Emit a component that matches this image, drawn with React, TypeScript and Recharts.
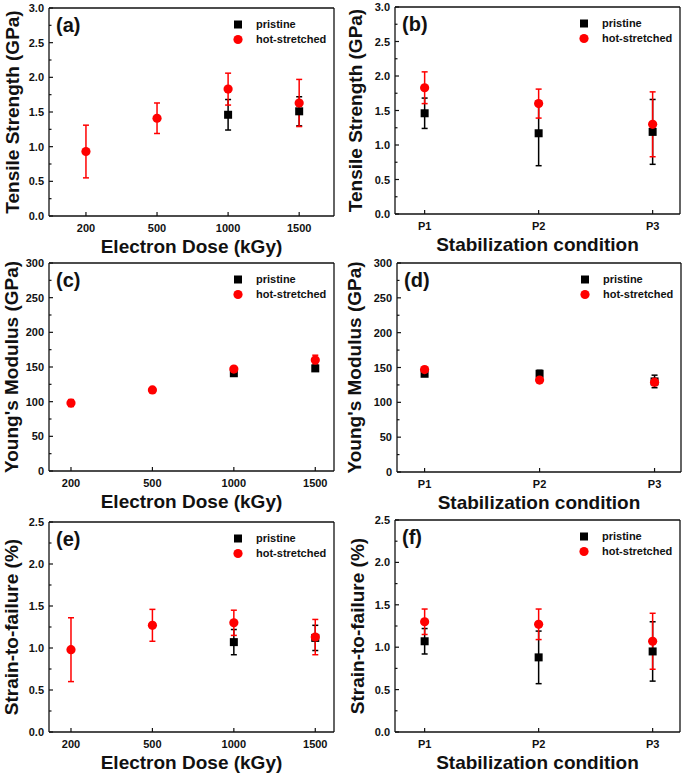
import React from 'react';
import { ScatterChart, Scatter, XAxis, YAxis, ErrorBar, ReferenceLine, Legend } from 'recharts';

const FONT = 'Arial, "Liberation Sans", Helvetica, sans-serif';

const doseLabels = ['200', '500', '1000', '1500'];
const condLabels = ['P1', 'P2', 'P3'];

// tensile strength (GPa)
const tsDosePristine = [null, null, 1.46, 1.51];
const tsDosePristineErr = [null, null, 0.22, 0.21];
const tsDoseHot = [0.93, 1.41, 1.83, 1.63];
const tsDoseHotErr = [0.38, 0.22, 0.23, 0.34];
const tsCondPristine = [1.46, 1.17, 1.19];
const tsCondPristineErr = [0.22, 0.47, 0.47];
const tsCondHot = [1.83, 1.6, 1.3];
const tsCondHotErr = [0.23, 0.21, 0.47];

// young's modulus (GPa)
const ymDosePristine = [null, null, 141, 148];
const ymDosePristineErr = [null, null, 4, 3];
const ymDoseHot = [98, 117, 147, 160];
const ymDoseHotErr = [5, 3, 3, 7];
const ymCondPristine = [141, 141, 130];
const ymCondPristineErr = [3, 5, 9];
const ymCondHot = [147, 132, 129];
const ymCondHotErr = [3, 3, 5];

// strain-to-failure (%)
const sfDosePristine = [null, null, 1.07, 1.12];
const sfDosePristineErr = [null, null, 0.15, 0.15];
const sfDoseHot = [0.98, 1.27, 1.3, 1.13];
const sfDoseHotErr = [0.38, 0.19, 0.15, 0.21];
const sfCondPristine = [1.07, 0.88, 0.95];
const sfCondPristineErr = [0.15, 0.31, 0.35];
const sfCondHot = [1.3, 1.27, 1.07];
const sfCondHotErr = [0.15, 0.18, 0.33];

const toPoints = (vals: (number | null)[], errs: (number | null)[]) =>
  vals
    .map((v, i) => (v == null ? null : { x: i, y: v, err: errs[i] }))
    .filter(Boolean) as { x: number; y: number; err: number }[];

const range = (max: number, step: number) => {
  const out: number[] = [];
  for (let i = 0; i <= Math.round(max / step); i++) out.push(+(i * step).toFixed(4));
  return out;
};

const panels = [
  {
    tag: '(a)', left: 0, top: 0, w: 342, h: 250, pl: 49, pt: 8, pr: 334, pb: 216,
    xDomain: [-0.52, 3.49], xLabels: doseLabels, yMax: 3, yStep: 0.5, dec: 1,
    yTitle: 'Tensile Strength (GPa)', xTitle: 'Electron Dose (kGy)', yTitleX: 19,
    pristine: toPoints(tsDosePristine, tsDosePristineErr), hot: toPoints(tsDoseHot, tsDoseHotErr),
  },
  {
    tag: '(b)', left: 342, top: 0, w: 343, h: 250, pl: 395, pt: 7, pr: 680, pb: 214,
    xDomain: [-0.26, 2.24], xLabels: condLabels, yMax: 3, yStep: 0.5, dec: 1,
    yTitle: 'Tensile Strength (GPa)', xTitle: 'Stabilization condition', yTitleX: 362,
    pristine: toPoints(tsCondPristine, tsCondPristineErr), hot: toPoints(tsCondHot, tsCondHotErr),
  },
  {
    tag: '(c)', left: 0, top: 250, w: 342, h: 258, pl: 49, pt: 263, pr: 334, pb: 471,
    xDomain: [-0.27, 3.23], xLabels: doseLabels, yMax: 300, yStep: 50, dec: 0,
    yTitle: "Young's Modulus (GPa)", xTitle: 'Electron Dose (kGy)', yTitleX: 18,
    pristine: toPoints(ymDosePristine, ymDosePristineErr), hot: toPoints(ymDoseHot, ymDoseHotErr),
  },
  {
    tag: '(d)', left: 342, top: 250, w: 343, h: 258, pl: 397, pt: 263, pr: 681, pb: 472,
    xDomain: [-0.24, 2.23], xLabels: condLabels, yMax: 300, yStep: 50, dec: 0,
    yTitle: "Young's Modulus (GPa)", xTitle: 'Stabilization condition', yTitleX: 361,
    pristine: toPoints(ymCondPristine, ymCondPristineErr), hot: toPoints(ymCondHot, ymCondHotErr),
  },
  {
    tag: '(e)', left: 0, top: 508, w: 342, h: 266, pl: 49, pt: 522, pr: 334, pb: 732,
    xDomain: [-0.27, 3.23], xLabels: doseLabels, yMax: 2.5, yStep: 0.5, dec: 1,
    yTitle: 'Strain-to-failure (%)', xTitle: 'Electron Dose (kGy)', yTitleX: 18,
    pristine: toPoints(sfDosePristine, sfDosePristineErr), hot: toPoints(sfDoseHot, sfDoseHotErr),
  },
  {
    tag: '(f)', left: 342, top: 508, w: 343, h: 266, pl: 395, pt: 520, pr: 680, pb: 732,
    xDomain: [-0.26, 2.24], xLabels: condLabels, yMax: 2.5, yStep: 0.5, dec: 1,
    yTitle: 'Strain-to-failure (%)', xTitle: 'Stabilization condition', yTitleX: 364,
    pristine: toPoints(sfCondPristine, sfCondPristineErr), hot: toPoints(sfCondHot, sfCondHotErr),
  },
];

const squareShape = (p: any) => <rect x={p.cx - 4} y={p.cy - 4} width={8} height={8} fill="#000" />;
const circleShape = (p: any) => <circle cx={p.cx} cy={p.cy} r={4.6} fill="#ff0000" />;

const makeYTick = (step: number, dec: number) => (props: any) => {
  const { x, y, payload } = props;
  const v = payload.value;
  const major = Math.abs(v / step - Math.round(v / step)) < 1e-6;
  return (
    <g>
      <line x1={x} x2={x + (major ? 4 : 2.5)} y1={y} y2={y} stroke="#111" strokeWidth={1.2} />
      {major && (
        <text x={x - 5} y={y + 4} textAnchor="end" fontSize={11} fontWeight="bold" fontFamily={FONT} fill="#111">
          {v.toFixed(dec)}
        </text>
      )}
    </g>
  );
};

const makeXTick = (labels: string[]) => (props: any) => {
  const { x, y, payload } = props;
  return (
    <g>
      <line x1={x} x2={x} y1={y} y2={y - 4} stroke="#111" strokeWidth={1.2} />
      <text x={x} y={y + 16} textAnchor="middle" fontSize={11} fontWeight="bold" fontFamily={FONT} fill="#111">
        {labels[payload.value]}
      </text>
    </g>
  );
};

const LegendBox = () => (
  <div style={{ fontFamily: FONT, fontWeight: 'bold', fontSize: 11, color: '#111' }}>
    <div style={{ display: 'flex', alignItems: 'center', height: 15 }}>
      <svg width={12} height={15}><rect x={2} y={3.5} width={8} height={8} fill="#000" /></svg>
      <span style={{ marginLeft: 12 }}>pristine</span>
    </div>
    <div style={{ display: 'flex', alignItems: 'center', height: 15 }}>
      <svg width={12} height={15}><circle cx={6} cy={7.5} r={4.6} fill="#ff0000" /></svg>
      <span style={{ marginLeft: 12 }}>hot-stretched</span>
    </div>
  </div>
);

const Panel = ({ p }: { p: (typeof panels)[number] }) => {
  const yTicks = range(p.yMax, p.yStep / 2);
  const xTicks = p.xLabels.map((_, i) => i);
  return (
    <div style={{ position: 'absolute', left: p.left, top: p.top, width: p.w, height: p.h }}>
      <ScatterChart
        width={p.w}
        height={p.h}
        margin={{ top: p.pt - p.top, right: p.left + p.w - p.pr, left: 0, bottom: 0 }}
      >
        <XAxis
          type="number"
          dataKey="x"
          domain={p.xDomain}
          ticks={xTicks}
          interval={0}
          height={p.top + p.h - p.pb}
          tickSize={0}
          tickMargin={0}
          tickLine={false}
          tick={makeXTick(p.xLabels)}
          axisLine={{ stroke: '#111', strokeWidth: 1.3 }}
          allowDataOverflow
        />
        <YAxis
          type="number"
          dataKey="y"
          domain={[0, p.yMax]}
          ticks={yTicks}
          interval={0}
          width={p.pl - p.left}
          tickSize={0}
          tickMargin={0}
          tickLine={false}
          tick={makeYTick(p.yStep, p.dec)}
          axisLine={{ stroke: '#111', strokeWidth: 1.3 }}
          allowDataOverflow
        />
        <ReferenceLine y={p.yMax} stroke="#111" strokeWidth={1.3} ifOverflow="visible" />
        <ReferenceLine x={p.xDomain[1]} stroke="#111" strokeWidth={1.3} ifOverflow="visible" />
        <Legend
          layout="horizontal"
          align="center"
          verticalAlign="middle"
          content={() => <LegendBox />}
          wrapperStyle={{ left: p.pr - p.left - 102, top: p.pt - p.top + 8.5, width: 'auto' }}
        />
        <Scatter name="pristine" data={p.pristine} shape={squareShape} fill="#000" isAnimationActive={false}>
          <ErrorBar dataKey="err" direction="y" width={3} stroke="#000" strokeWidth={1.5} />
        </Scatter>
        <Scatter name="hot-stretched" data={p.hot} shape={circleShape} fill="#ff0000" isAnimationActive={false}>
          <ErrorBar dataKey="err" direction="y" width={3} stroke="#ff0000" strokeWidth={1.5} />
        </Scatter>
      </ScatterChart>
    </div>
  );
};

export default function App() {
  return (
    <div style={{ position: 'absolute', left: 0, top: 0, width: 685, height: 774, background: '#fff' }}>
      {panels.map((p) => (
        <Panel key={p.tag} p={p} />
      ))}
      <svg width={685} height={774} style={{ position: 'absolute', left: 0, top: 0, pointerEvents: 'none' }}>
        {panels.map((p) => (
          <g key={p.tag} fontFamily={FONT} fontWeight="bold" fill="#111">
            <text x={p.pl + 7} y={p.pt + 24} fontSize={20}>{p.tag}</text>
            <text x={(p.pl + p.pr) / 2} y={p.pb + 37} fontSize={19} textAnchor="middle">{p.xTitle}</text>
            <text
              transform={`translate(${p.yTitleX}, ${(p.pt + p.pb) / 2}) rotate(-90)`}
              fontSize={19}
              textAnchor="middle"
            >
              {p.yTitle}
            </text>
          </g>
        ))}
      </svg>
    </div>
  );
}
